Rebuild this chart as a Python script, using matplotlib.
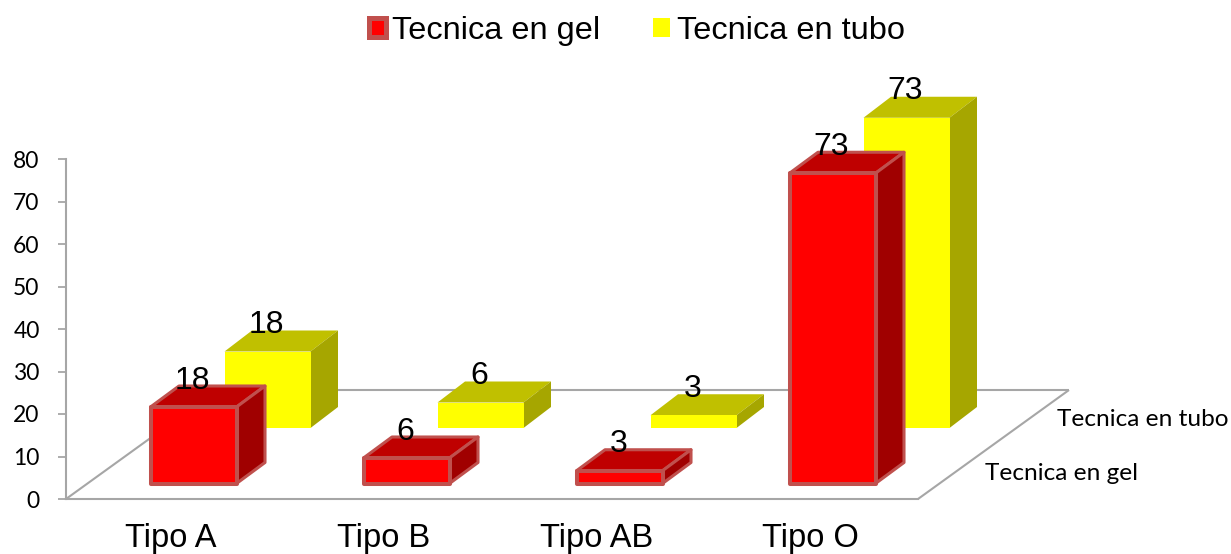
import matplotlib
matplotlib.use("Agg")
import matplotlib.pyplot as plt
from matplotlib.patches import Polygon, Patch

categories = ["Tipo A", "Tipo B", "Tipo AB", "Tipo O"]
gel_values = [18, 6, 3, 73]
tubo_values = [18, 6, 3, 73]
series_names = ["Tecnica en gel", "Tecnica en tubo"]
y_ticks = [0, 10, 20, 30, 40, 50, 60, 70, 80]

W, H = 1231, 554
fig = plt.figure(figsize=(W / 100, H / 100), dpi=100, facecolor="white")
L, R, B, T = 66, 1068, 499, 159
ax = fig.add_axes([L / W, 1 - B / H, (R - L) / W, (B - T) / H])
PX_CAT = 213.0
PX_VAL = (B - T) / 80
ax.set_xlim(-0.5, -0.5 + (R - L) / PX_CAT)
ax.set_ylim(0, 80)
ax.patch.set_alpha(0)

GREY = "#A6A6A6"
for s in ["top", "right"]:
    ax.spines[s].set_visible(False)
for s in ["left", "bottom"]:
    ax.spines[s].set_color(GREY)
    ax.spines[s].set_linewidth(1.5)
ax.spines["bottom"].set_bounds(-0.5, 3.5)
ax.set_yticks(y_ticks)
ax.set_xticks([i - 1.5 / PX_CAT for i in range(len(categories))])
ax.set_xticklabels(categories, fontname="Liberation Sans", fontsize=23.5)
ax.tick_params(axis="x", length=0, pad=17)
ax.tick_params(axis="y", length=6, width=1.3, color=GREY, pad=13, labelsize=16.5)
for t in ax.get_yticklabels():
    t.set_fontname("Lato")

dy_depth = 21 / PX_VAL
bar_w = 86 / PX_CAT


def floor_line(xs, ys):
    ax.plot(xs, ys, color=GREY, lw=1.5, clip_on=False, zorder=1, solid_capstyle="butt")


x0, x1 = -0.5, 3.5
fd = 151 / PX_CAT
fv = 109 / PX_VAL
floor_line([x0, x0 + fd], [0, fv])
floor_line([x1, x1 + fd], [0, fv])
floor_line([x0 + fd, x1 + fd], [fv, fv])


def bar3d(xc, base, val, front, top, side, depth_px, edge=None, z=3):
    dx_depth = depth_px / PX_CAT
    xl, xr = xc - bar_w / 2, xc + bar_w / 2
    yt = base + val
    kw = dict(clip_on=False, zorder=z, joinstyle="round")
    kw_back = dict(kw)
    if edge:
        kw.update(edgecolor=edge, linewidth=2.9)
        kw_back.update(edgecolor=edge, linewidth=2.2)
    else:
        kw.update(edgecolor="none")
        kw_back.update(edgecolor="none")
    ax.add_patch(Polygon([(xl, yt), (xr, yt), (xr + dx_depth, yt + dy_depth), (xl + dx_depth, yt + dy_depth)],
                         facecolor=top, **kw_back))
    ax.add_patch(Polygon([(xr, base), (xr + dx_depth, base + dy_depth), (xr + dx_depth, yt + dy_depth), (xr, yt)],
                         facecolor=side, **kw_back))
    ax.add_patch(Polygon([(xl, base), (xr, base), (xr, yt), (xl, yt)], facecolor=front, **kw))
    ax.text(xc - 1 / PX_CAT, yt + 26.5 / PX_VAL, str(val), ha="center", va="center", fontname="Liberation Sans",
            fontsize=23, color="black", zorder=10, clip_on=False)


gel_off = 21 / PX_CAT
tubo_off = 95 / PX_CAT
gel_base = 15.5 / PX_VAL
tubo_base = 71 / PX_VAL
for i, (g, t) in enumerate(zip(gel_values, tubo_values)):
    bar3d(i + tubo_off, tubo_base, t, "#FFFF00", "#C0C000", "#A6A600", 27.5, z=3)
    bar3d(i + gel_off, gel_base, g, "#FF0000", "#BF0000", "#A00000", 28.5, edge="#C0504D", z=5)

ax.text(3.5 + 139 / PX_CAT, 80 / PX_VAL, series_names[1], fontname="Lato", fontsize=17.6,
        ha="left", va="center", clip_on=False)
ax.text(3.5 + 67 / PX_CAT, 25 / PX_VAL, series_names[0], fontname="Lato", fontsize=17.6,
        ha="left", va="center", clip_on=False)

handles = [Patch(facecolor="#FF0000", edgecolor="#C0504D", linewidth=3.6, joinstyle="round", label=series_names[0]),
           Patch(facecolor="#FFFF00", edgecolor="none", label=series_names[1])]
fig.legend(handles=handles, loc="center", bbox_to_anchor=(636.7 / W, 1 - 31 / H), ncols=2, frameon=False,
           prop={"family": "Liberation Sans", "size": 23.4}, handlelength=0.523, handleheight=0.523,
           handletextpad=0.2, columnspacing=1.63, borderpad=0, borderaxespad=0)

fig.savefig("out.png", dpi=100)
